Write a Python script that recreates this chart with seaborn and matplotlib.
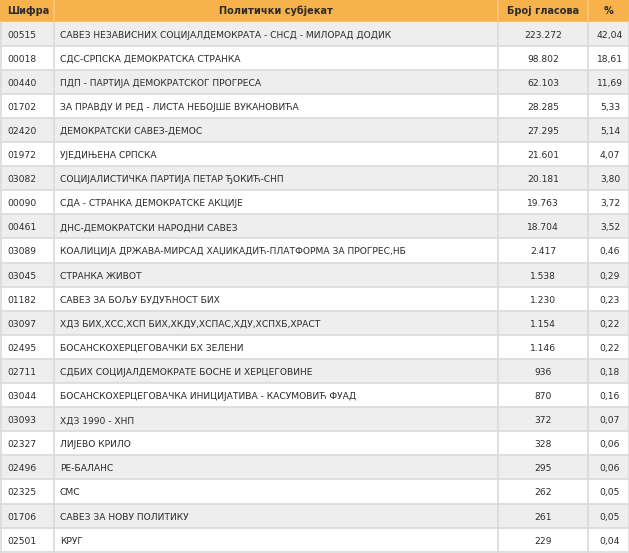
import matplotlib
matplotlib.use("Agg")
import matplotlib.pyplot as plt
import seaborn as sns

codes = ["00515", "00018", "00440", "01702", "02420", "01972", "03082", "00090",
         "00461", "03089", "03045", "01182", "03097", "02495", "02711", "03044",
         "03093", "02327", "02496", "02325", "01706", "02501"]
parties = [
    "САВЕЗ НЕЗАВИСНИХ СОЦИЈАЛДЕМОКРАТА - СНСД - МИЛОРАД ДОДИК",
    "СДС-СРПСКА ДЕМОКРАТСКА СТРАНКА",
    "ПДП - ПАРТИЈА ДЕМОКРАТСКОГ ПРОГРЕСА",
    "ЗА ПРАВДУ И РЕД - ЛИСТА НЕБОЈШЕ ВУКАНОВИЋА",
    "ДЕМОКРАТСКИ САВЕЗ-ДЕМОС",
    "УЈЕДИЊЕНА СРПСКА",
    "СОЦИЈАЛИСТИЧКА ПАРТИЈА ПЕТАР ЂОКИЋ-СНП",
    "СДА - СТРАНКА ДЕМОКРАТСКЕ АКЦИЈЕ",
    "ДНС-ДЕМОКРАТСКИ НАРОДНИ САВЕЗ",
    "КОАЛИЦИЈА ДРЖАВА-МИРСАД ХАЏИКАДИЋ-ПЛАТФОРМА ЗА ПРОГРЕС,НБ",
    "СТРАНКА ЖИВОТ",
    "САВЕЗ ЗА БОЉУ БУДУЋНОСТ БИХ",
    "ХДЗ БИХ,ХСС,ХСП БИХ,ХКДУ,ХСПАС,ХДУ,ХСПХБ,ХРАСТ",
    "БОСАНСКОХЕРЦЕГОВАЧКИ БХ ЗЕЛЕНИ",
    "СДБИХ СОЦИЈАЛДЕМОКРАТЕ БОСНЕ И ХЕРЦЕГОВИНЕ",
    "БОСАНСКОХЕРЦЕГОВАЧКА ИНИЦИЈАТИВА - КАСУМОВИЋ ФУАД",
    "ХДЗ 1990 - ХНП",
    "ЛИЈЕВО КРИЛО",
    "РЕ-БАЛАНС",
    "СМС",
    "САВЕЗ ЗА НОВУ ПОЛИТИКУ",
    "КРУГ",
]
votes = [223272, 98802, 62103, 28285, 27295, 21601, 20181, 19763, 18704, 2417,
         1538, 1230, 1154, 1146, 936, 870, 372, 328, 295, 262, 261, 229]
percents = [42.04, 18.61, 11.69, 5.33, 5.14, 4.07, 3.80, 3.72, 3.52, 0.46,
            0.29, 0.23, 0.22, 0.22, 0.18, 0.16, 0.07, 0.06, 0.06, 0.05, 0.05, 0.04]
headers = ["Шифра", "Политички субјекат", "Број гласова", "%"]

sns.set_style("white")
plt.rcParams['font.family'] = ['DejaVu Sans']

W, H = 629, 553
fig = plt.figure(figsize=(W / 100, H / 100), dpi=100)
ax = fig.add_axes([0, 0, 1, 1])
ax.set_xlim(0, W)
ax.set_ylim(H, 0)
ax.axis("off")

col_edges = [0, 54, 498, 588, 629]
head_h = 21.5
row_h = 24.1
txt = "#2b2b2b"
line_c = "#dadada"
fs = 6.6

# header
ax.axhspan(0, head_h, color="#f7b24b", zorder=0)
ax.text(7, head_h / 2 + 3.5, headers[0], ha="left", va="baseline", fontsize=7.0, fontweight="bold", color=txt)
for j in range(1, 4):
    ax.text((col_edges[j] + col_edges[j + 1]) / 2, head_h / 2 + 3.5, headers[j],
            ha="center", va="baseline", fontsize=7.0, fontweight="bold", color=txt)

for i in range(len(codes)):
    top = head_h + i * row_h
    bg = "#eeeeee" if i % 2 == 0 else "white"
    ax.axhspan(top, top + row_h, color=bg, zorder=0)
    ax.axhline(top + row_h, color=line_c, lw=1.2, zorder=1)
    yb = top + row_h / 2 + 4
    ax.text(7, yb, codes[i], ha="left", va="baseline", fontsize=fs, color=txt)
    ax.text(60, yb, parties[i], ha="left", va="baseline", fontsize=fs, color=txt)
    ax.text(543, yb, f"{votes[i]:,}".replace(",", "."), ha="center", va="baseline", fontsize=fs, color=txt)
    ax.text(610, yb, f"{percents[i]:.2f}".replace(".", ","), ha="center", va="baseline", fontsize=fs, color=txt)

bottom = head_h + len(codes) * row_h
for x in col_edges[1:-1]:
    ax.plot([x, x], [head_h, bottom], color=line_c, lw=1.2, zorder=1)
    ax.plot([x, x], [0, head_h], color="#f9c77c", lw=1.2, zorder=1)
ax.plot([0.5, 0.5], [head_h, bottom], color=line_c, lw=1.2, zorder=1)
ax.plot([628.5, 628.5], [head_h, bottom], color=line_c, lw=1.2, zorder=1)

fig.savefig("out.png", dpi=100)
